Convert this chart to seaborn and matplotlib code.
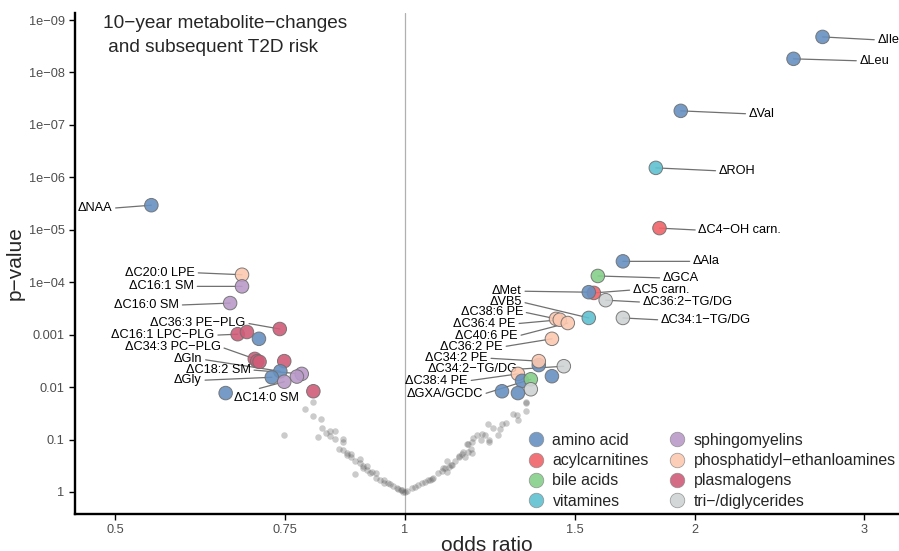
import matplotlib
matplotlib.use("Agg")
import matplotlib.pyplot as plt
from matplotlib.lines import Line2D
import seaborn as sns
import pandas as pd

# metabolite classes and their colours
classes = ["amino acid", "acylcarnitines", "bile acids", "vitamines",
           "sphingomyelins", "phosphatidyl−ethanloamines", "plasmalogens", "tri−/diglycerides"]
class_colors = ["#6690c0", "#f06468", "#86d08a", "#5fc0d0",
                "#b99ac9", "#fcc8b0", "#d05c78", "#cfd3d4"]

# significant metabolites ("" = not labelled)
sig_names = ["ΔIle", "ΔLeu", "ΔVal", "ΔROH", "ΔC4−OH carn.", "ΔAla", "ΔGCA",
             "ΔC5 carn.", "ΔMet", "ΔC36:2−TG/DG", "ΔC34:1−TG/DG", "ΔVB5",
             "ΔC38:6 PE", "ΔC36:4 PE", "ΔC40:6 PE", "ΔC36:2 PE", "",
             "ΔC34:2 PE", "ΔC34:2−TG/DG", "ΔC38:4 PE", "", "", "ΔGXA/GCDC", "", "", "",
             "ΔNAA", "ΔC20:0 LPE", "ΔC16:1 SM", "ΔC16:0 SM", "ΔC36:3 PE−PLG",
             "ΔC16:1 LPC−PLG", "", "", "ΔC34:3 PC−PLG", "", "", "",
             "ΔGln", "ΔGly", "ΔC18:2 SM", "", "ΔC14:0 SM", "", ""]
sig_class = ["amino acid", "amino acid", "amino acid", "vitamines", "acylcarnitines", "amino acid", "bile acids",
             "acylcarnitines", "amino acid", "tri−/diglycerides", "tri−/diglycerides", "vitamines",
             "phosphatidyl−ethanloamines", "phosphatidyl−ethanloamines", "phosphatidyl−ethanloamines",
             "phosphatidyl−ethanloamines", "amino acid",
             "phosphatidyl−ethanloamines", "tri−/diglycerides", "phosphatidyl−ethanloamines",
             "amino acid", "amino acid", "bile acids", "tri−/diglycerides", "amino acid", "amino acid",
             "amino acid", "phosphatidyl−ethanloamines", "sphingomyelins", "sphingomyelins", "plasmalogens",
             "plasmalogens", "plasmalogens", "amino acid", "plasmalogens", "plasmalogens", "plasmalogens", "plasmalogens",
             "amino acid", "amino acid", "sphingomyelins", "sphingomyelins", "sphingomyelins", "plasmalogens", "amino acid"]
sig_or = [2.715, 2.533, 1.934, 1.822, 1.838, 1.684, 1.586,
          1.571, 1.552, 1.616, 1.684, 1.552,
          1.435, 1.448, 1.476, 1.421, 1.377,
          1.377, 1.462, 1.310, 1.421, 1.323, 1.351, 1.351, 1.261, 1.310,
          0.545, 0.677, 0.677, 0.658, 0.741,
          0.670, 0.685, 0.705, 0.698, 0.702, 0.706, 0.749,
          0.742, 0.727, 0.781, 0.772, 0.749, 0.803, 0.651]
sig_p = [2.1e-09, 5.5e-09, 5.4e-08, 6.6e-07, 9.3e-06, 4.0e-05, 7.6e-05,
         1.6e-04, 1.55e-04, 2.2e-04, 4.8e-04, 4.8e-04,
         5.0e-04, 5.2e-04, 6.0e-04, 1.2e-03, 3.8e-03,
         3.2e-03, 4.0e-03, 5.6e-03, 6.2e-03, 7.6e-03, 7.1e-03, 1.1e-02, 1.2e-02, 1.3e-02,
         3.4e-06, 7.2e-05, 1.2e-04, 2.5e-04, 7.8e-04,
         9.8e-04, 8.9e-04, 1.2e-03, 2.9e-03, 3.2e-03, 3.3e-03, 3.2e-03,
         5.0e-03, 6.5e-03, 5.6e-03, 6.3e-03, 7.9e-03, 1.2e-02, 1.3e-02]

# non-significant metabolites (grey background points)
bg_or = [0.803, 0.787, 0.803, 0.818, 0.749, 0.820, 0.812, 0.828, 0.836, 0.845,
         0.845, 0.862, 0.862, 0.853, 0.862, 0.870, 0.878, 0.870, 0.887, 0.897,
         0.905, 0.905, 0.914, 0.923, 0.933, 0.887, 0.933, 0.942, 0.951, 0.961,
         0.971, 0.980, 0.990, 1.000, 0.878, 0.836, 0.897, 0.914, 0.951, 0.965,
         0.983, 0.993, 0.920,
         0.996, 1.004, 1.016, 1.024, 1.032, 1.041, 1.049, 1.057, 1.066, 1.070,
         1.083, 1.092, 1.105, 1.100, 1.112, 1.118, 1.127, 1.139, 1.145, 1.154,
         1.149, 1.163, 1.173, 1.170, 1.163, 1.173, 1.177, 1.189, 1.201, 1.211,
         1.198, 1.223, 1.220, 1.235, 1.255, 1.248, 1.273, 1.260, 1.295, 1.306,
         1.311, 1.337, 1.335, 1.335, 1.061, 1.094, 1.105, 1.115, 1.160, 1.222, 1.138]
bg_p = [0.019, 0.026, 0.035, 0.041, 0.081, 0.059, 0.089, 0.076, 0.069, 0.069,
        0.098, 0.098, 0.11, 0.15, 0.16, 0.18, 0.19, 0.20, 0.26, 0.28,
        0.32, 0.35, 0.38, 0.42, 0.44, 0.46, 0.54, 0.58, 0.68, 0.68,
        0.78, 0.83, 0.91, 0.98, 0.22, 0.085, 0.23, 0.32, 0.59, 0.71,
        0.87, 0.93, 0.44,
        0.99, 0.95, 0.85, 0.79, 0.74, 0.68, 0.64, 0.59, 0.56, 0.54,
        0.44, 0.40, 0.42, 0.35, 0.33, 0.30, 0.26, 0.21, 0.19, 0.22,
        0.17, 0.17, 0.18, 0.15, 0.12, 0.11, 0.095, 0.081, 0.079, 0.081,
        0.10, 0.10, 0.051, 0.059, 0.062, 0.081, 0.049, 0.051, 0.032, 0.034,
        0.043, 0.020, 0.028, 0.019, 0.59, 0.35, 0.26, 0.31, 0.12, 0.11, 0.22]

x_ticks = [0.5, 0.75, 1, 1.5, 2, 3]
x_ticklabels = ["0.5", "0.75", "1", "1.5", "2", "3"]
y_ticks = [1e-09, 1e-08, 1e-07, 1e-06, 1e-05, 1e-04, 1e-03, 1e-02, 1e-01, 1]
y_ticklabels = ["1e−09", "1e−08", "1e−07", "1e−06", "1e−05", "1e−04", "0.001", "0.01", "0.1", "1"]

# label placement (pixel offsets from point, alignment) -- layout only
label_pos = {
    "ΔIle": (55, 3, "left"), "ΔLeu": (66, 2, "left"), "ΔVal": (68, 3, "left"),
    "ΔROH": (63, 3, "left"), "ΔC4−OH carn.": (39, 2, "left"), "ΔAla": (70, 0, "left"),
    "ΔGCA": (65, 2, "left"), "ΔC5 carn.": (39, -3, "left"), "ΔC36:2−TG/DG": (37, 2, "left"),
    "ΔC34:1−TG/DG": (38, 2, "left"),
    "ΔMet": (-67, -1, "right"), "ΔVB5": (-67, -16, "right"), "ΔC38:6 PE": (-33, -7, "right"),
    "ΔC36:4 PE": (-44, 4, "right"), "ΔC40:6 PE": (-50, 13, "right"), "ΔC36:2 PE": (-49, 8, "right"),
    "ΔC34:2 PE": (-51, -3, "right"), "ΔC34:2−TG/DG": (-46, 3, "right"), "ΔC38:4 PE": (-50, 7, "right"),
    "ΔGXA/GCDC": (-48, 15, "right"),
    "ΔNAA": (-39, 3, "right"), "ΔC20:0 LPE": (-47, -2, "right"), "ΔC16:1 SM": (-48, 0, "right"),
    "ΔC16:0 SM": (-51, 2, "right"), "ΔC36:3 PE−PLG": (-34, -6, "right"),
    "ΔC16:1 LPC−PLG": (-23, 1, "right"), "ΔC34:3 PC−PLG": (-34, -12, "right"),
    "ΔGln": (-78, -12, "right"), "ΔC18:2 SM": (-51, -4, "right"), "ΔGly": (-70, 3, "right"),
    "ΔC14:0 SM": (-50, 16, "left"),
}

sig = pd.DataFrame({"name": sig_names, "cls": sig_class, "odds": sig_or, "p": sig_p})
bg = pd.DataFrame({"odds": bg_or, "p": bg_p})

sns.set_style("ticks")
plt.rcParams["font.family"] = ["Liberation Sans", "DejaVu Sans"]

fig = plt.figure(figsize=(8.99, 5.51), dpi=100)
ax = fig.add_axes([75 / 899, 1 - 514 / 551, 824 / 899, 501 / 551])

ax.axvline(1, color="#b0b0b0", lw=0.9, zorder=0)

sns.scatterplot(data=bg, x="odds", y="p", ax=ax, color="#555555", alpha=0.3,
                s=22, linewidth=0, legend=False, zorder=1)
sns.scatterplot(data=sig, x="odds", y="p", hue="cls", hue_order=classes,
                palette=class_colors, ax=ax, s=95, alpha=0.9,
                edgecolor="#6e6e6e", linewidth=0.7, legend=False, zorder=3)

ax.set_xscale("log")
ax.set_yscale("log")
ax.set_xlim(0.454, 3.26)
ax.set_ylim(2.63, 7.35e-10)

ax.set_xticks(x_ticks)
ax.set_xticklabels(x_ticklabels)
ax.set_yticks(y_ticks)
ax.set_yticklabels(y_ticklabels)
ax.minorticks_off()
ax.tick_params(axis="both", labelsize=9.2, labelcolor="#4d4d4d", color="black",
               length=4, width=1)

for side in ["top", "right"]:
    ax.spines[side].set_visible(False)
for side in ["left", "bottom"]:
    ax.spines[side].set_linewidth(1.7)
    ax.spines[side].set_color("black")

ax.set_xlabel("odds ratio", fontsize=15, labelpad=0)
ax.set_ylabel("p−value", fontsize=15, labelpad=3)

# labels with connector lines
for _, row in sig.iterrows():
    if row["name"] == "":
        continue
    dx, dy, ha = label_pos[row["name"]]
    if row["name"] == "ΔC14:0 SM":
        rel = (0.2, 1.0)
    else:
        rel = (0.0, 0.5) if ha == "left" else (1.0, 0.5)
    ax.annotate(row["name"], xy=(row["odds"], row["p"]),
                xytext=(dx * 0.72, -dy * 0.72), textcoords="offset points",
                ha=ha, va="center", fontsize=9.2, color="black",
                annotation_clip=False, zorder=2,
                arrowprops=dict(arrowstyle="-", color="#707070", lw=0.9,
                                shrinkA=0, shrinkB=0, relpos=rel))

ax.text(0.034, 0.996, "10−year metabolite−changes\n and subsequent T2D risk",
        transform=ax.transAxes, ha="left", va="top", fontsize=13.7,
        linespacing=1.55)

handles = [Line2D([0], [0], marker="o", linestyle="", markersize=10.5,
                  markerfacecolor=c, markeredgecolor="#8a8a8a", markeredgewidth=0.5,
                  alpha=0.9)
           for c in class_colors]
ax.legend(handles, classes, ncol=2, loc="lower right", bbox_to_anchor=(1.008, -0.008),
          frameon=False, fontsize=11.4, handlelength=1.0, handletextpad=0.55,
          columnspacing=1.3, labelspacing=0.33, borderaxespad=0.2)

fig.savefig("out.png", dpi=100)
